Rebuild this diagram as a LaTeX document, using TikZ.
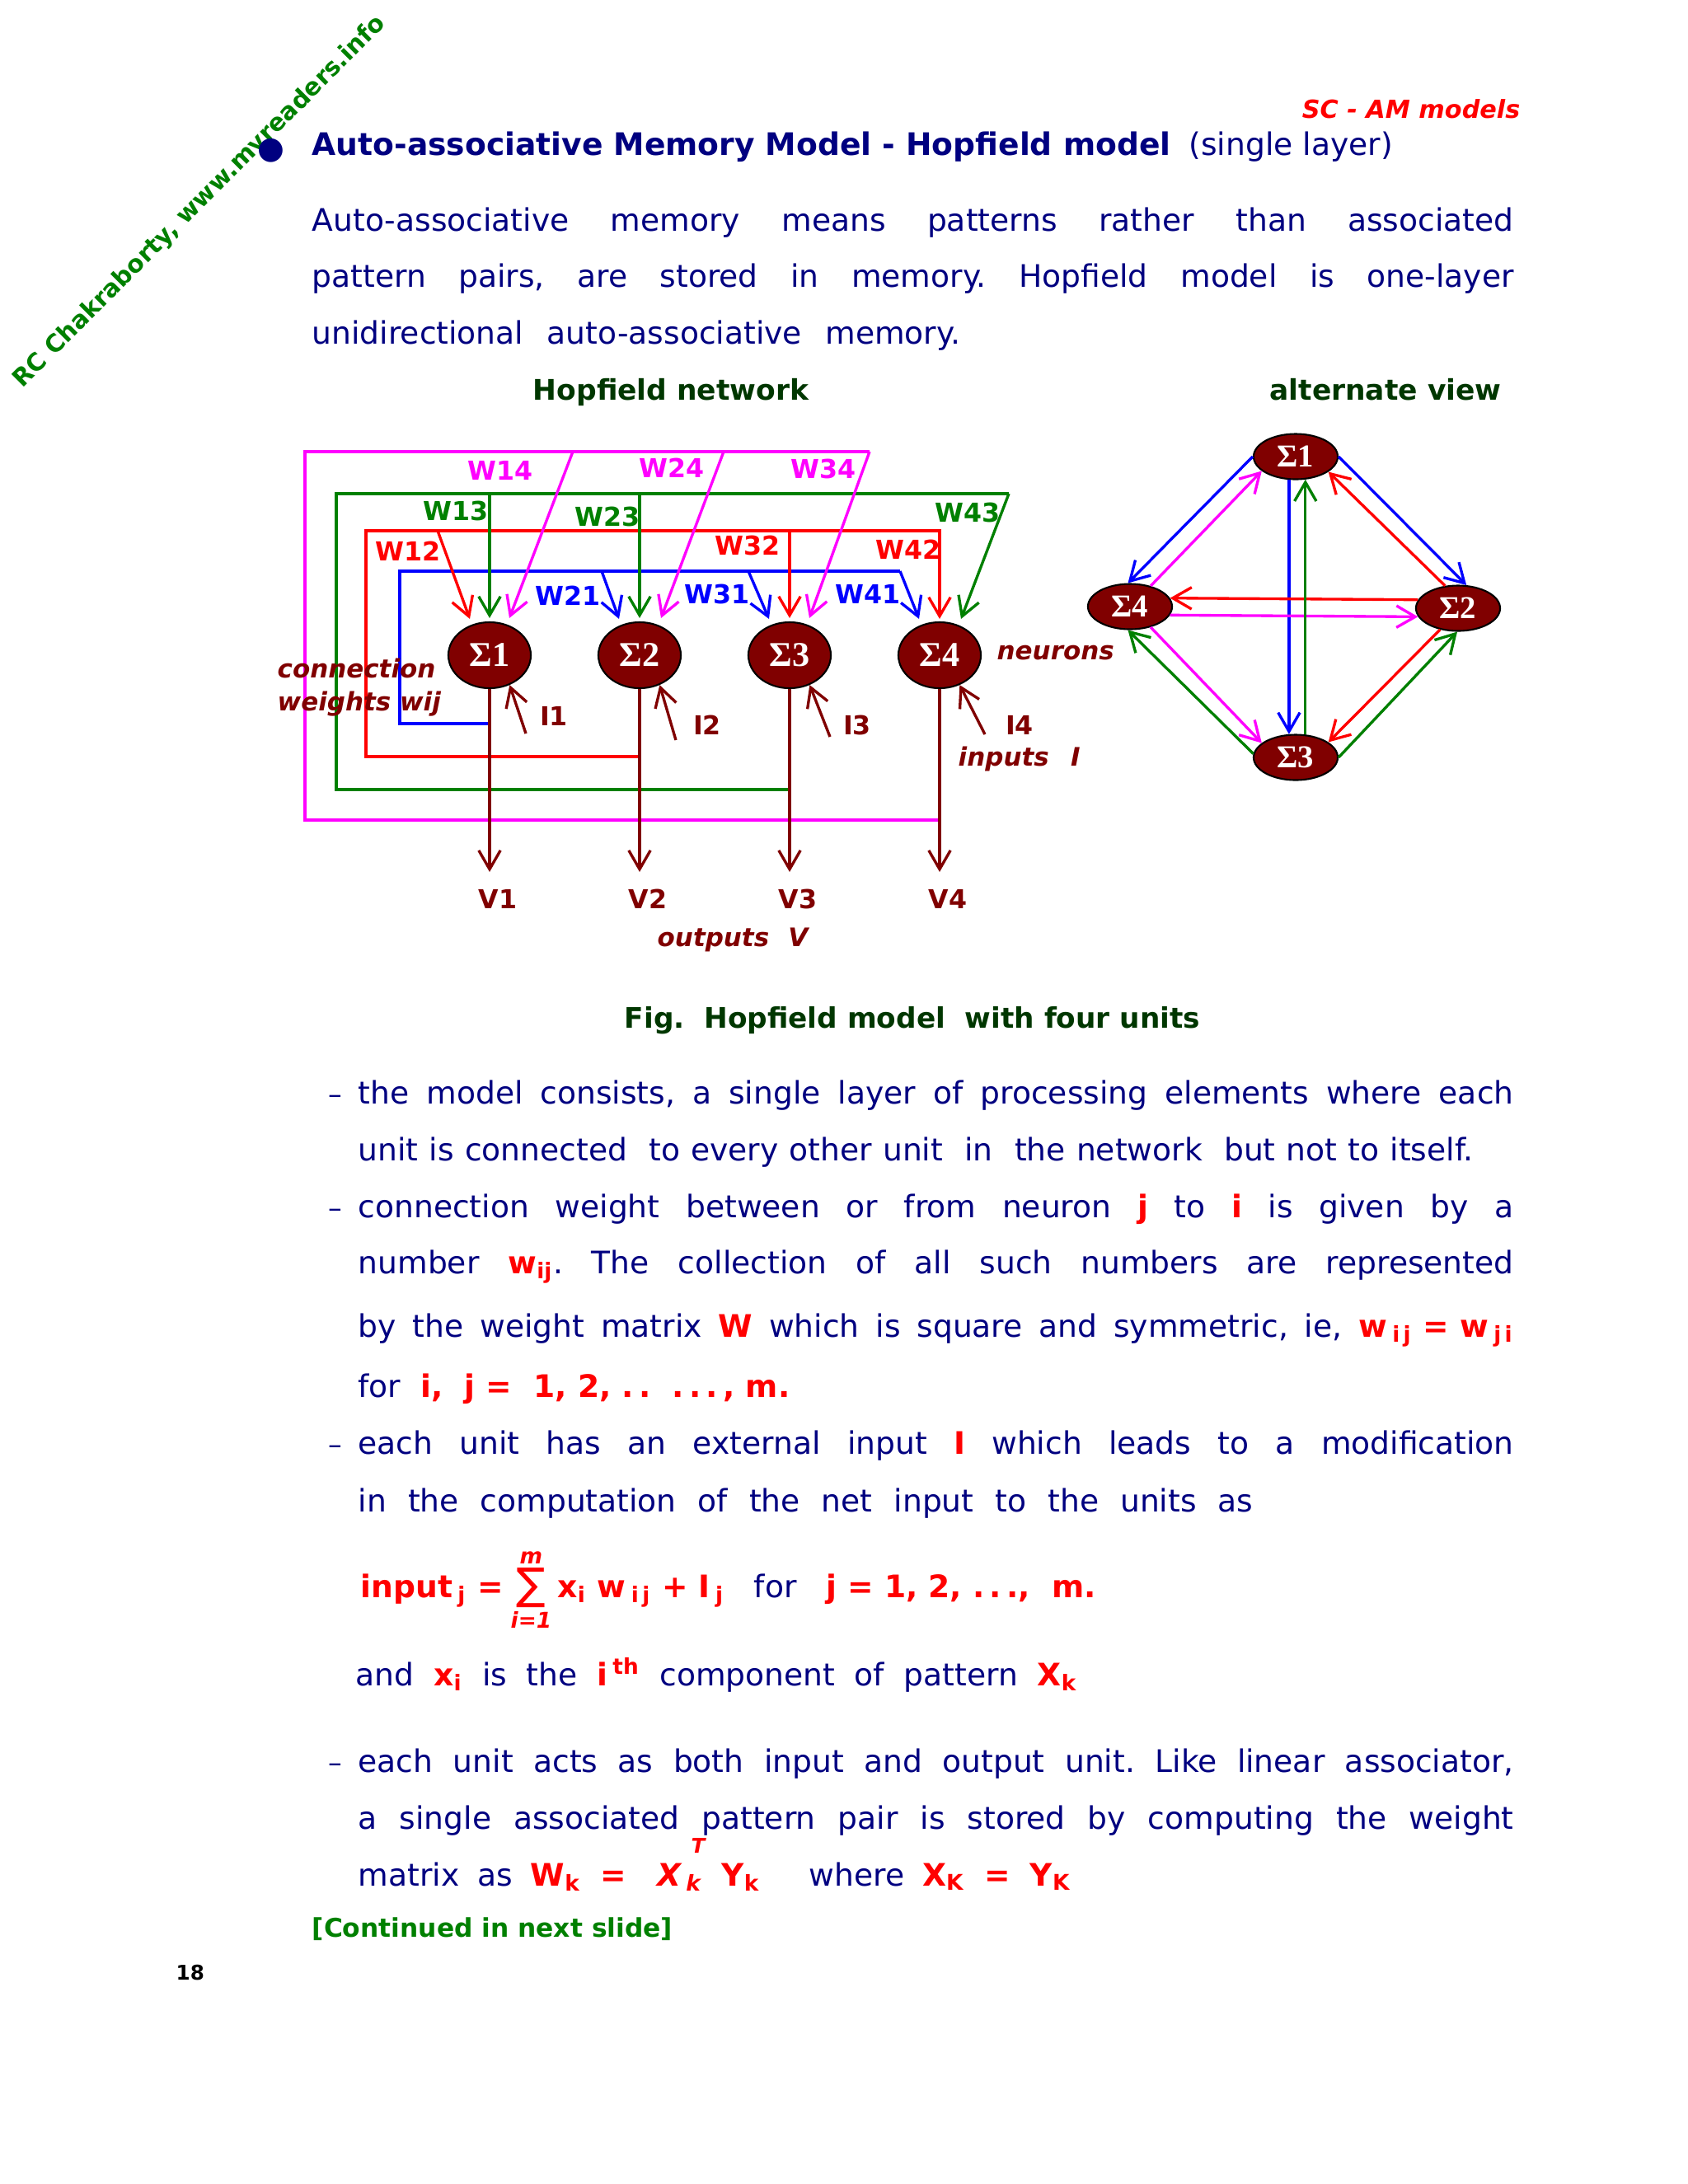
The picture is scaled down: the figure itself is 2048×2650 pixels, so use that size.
\documentclass[tikz,border=0pt]{standalone}
\usepackage{fontspec}
\setmainfont{DejaVu Sans}
\newfontfamily\sigfont{Liberation Serif}
\usetikzlibrary{arrows.meta,positioning,calc,shapes.geometric}
\frenchspacing

\definecolor{navy}{RGB}{0,0,128}
\definecolor{maroon}{RGB}{128,0,0}
\definecolor{dkgreen}{RGB}{0,55,0}
\definecolor{wgreen}{RGB}{0,128,0}
\definecolor{wred}{RGB}{255,0,0}
\definecolor{wblue}{RGB}{0,0,255}
\definecolor{wpink}{RGB}{255,0,255}

\newcommand\bodyfont{\fontsize{10.7}{13}\selectfont}
\newcommand\rb[1]{\textcolor{red}{\bfseries #1}}
\newcommand\jline[2]{\makebox[#1][s]{#2}}

\tikzset{
  neuron/.style={ellipse, draw=black, line width=0.6pt, fill=maroon, text=white,
    minimum width=1cm, minimum height=0.8cm, inner sep=0pt,
    font=\sigfont\bfseries\fontsize{12}{12}\selectfont},
  altneuron/.style={neuron, minimum width=1.02cm, minimum height=0.55cm,
    font=\sigfont\bfseries\fontsize{11}{11}\selectfont},
  wlab/.style={inner sep=0pt, font=\bfseries\fontsize{9}{10}\selectfont},
  note/.style={inner sep=0pt, anchor=base west, text=maroon,
    font=\bfseries\itshape\fontsize{8.8}{10}\selectfont},
  txt/.style={inner sep=0pt, anchor=base west, text=navy, font=\bodyfont},
  head/.style={inner sep=0pt, anchor=base, text=dkgreen,
    font=\bfseries\fontsize{9.8}{11}\selectfont},
  wire/.style={line width=0.95pt},
  arr/.style={wire, -{Straight Barb[length=6.5pt,width=7.5pt]}},
}

\begin{document}
\begin{tikzpicture}[x=0.01cm, y=-0.01cm]
\fill[white] (0,0) rectangle (2048,2650);
\useasboundingbox (0,0) rectangle (2048,2650);

% page header
\node[inner sep=0pt, anchor=base west, rotate=45, text=wgreen,
  font=\bfseries\fontsize{8.4}{10}\selectfont] (mark) at (27,472) {RC Chakraborty, www.myreaders.info};
\node[inner sep=0pt, anchor=base east, text=red,
  font=\bfseries\itshape\fontsize{8.6}{10}\selectfont] (hdr) at (1845,143) {SC - AM models};
\node[txt] (bul) at (312,192) {●};
\node[txt, font=\bfseries\bodyfont] (title) at (378,188) {Auto-associative Memory Model - Hopfield model};
\node[txt] (sub) at (1442,188) {(single layer)};
\node[txt] (p1) at (378,280) {\jline{14.57cm}{Auto-associative memory means patterns rather than associated}};
\node[txt] (p2) at (378,348) {\jline{14.57cm}{pattern pairs, are stored in memory. Hopfield model is one-layer}};
\node[txt] (p3) at (378,417) {\jline{7.86cm}{unidirectional auto-associative memory.}};
\node[head] (hnet) at (814,485) {Hopfield network};
\node[head] (halt) at (1681,485) {alternate view};

% neurons
\foreach \n/\x in {1/594,2/776,3/958,4/1140}
  \node[neuron] (s\n) at (\x,795) {Σ\n};

% feedback from unit 1 (blue)
\coordinate (b0) at (594,878);
\coordinate (bc) at (485,693);
\coordinate (b2) at (730,693);
\coordinate (b3) at (908,693);
\coordinate (b4) at (1092,693);
\draw[wire, wblue] (b0) -| (bc) -- (b4);
\draw[arr, wblue] (b2) -- ($(s2.north)+(-25,-3)$);
\draw[arr, wblue] (b3) -- ($(s3.north)+(-25,-3)$);
\draw[arr, wblue] (b4) -- ($(s4.north)+(-25,-3)$);

% feedback from unit 2 (red)
\coordinate (r0) at (776,918);
\coordinate (rc) at (444,644);
\coordinate (r1) at (531,644);
\draw[arr, wred] (r0) -| (rc) -| ($(s4.north)+(0,-3)$);
\draw[arr, wred] (r1) -- ($(s1.north)+(-24,-3)$);
\draw[arr, wred] (s3.north |- rc) -- ($(s3.north)+(0,-4)$);

% feedback from unit 3 (green)
\coordinate (g0) at (958,958);
\coordinate (gc) at (408,599);
\coordinate (g4) at (1224,599);
\draw[wire, wgreen] (g0) -| (gc) -- (g4);
\draw[arr, wgreen] (g4) -- ($(s4.north)+(26,-3)$);
\draw[arr, wgreen] (s1.north |- gc) -- ($(s1.north)+(0,-4)$);
\draw[arr, wgreen] (s2.north |- gc) -- ($(s2.north)+(0,-4)$);

% feedback from unit 4 (magenta)
\coordinate (m0) at (1140,995);
\coordinate (mc) at (370,548);
\coordinate (m1) at (695,548);
\coordinate (m2) at (878,548);
\coordinate (m3) at (1055,548);
\draw[wire, wpink] (m0) -| (mc) -- (m3);
\draw[arr, wpink] (m1) -- ($(s1.north)+(24,-4)$);
\draw[arr, wpink] (m2) -- ($(s2.north)+(26,-4)$);
\draw[arr, wpink] (m3) -- ($(s3.north)+(24,-4)$);

% weight labels
\foreach \lab/\col/\x/\y in {W14/wpink/607/571, W24/wpink/815/568, W34/wpink/999/569,
    W13/wgreen/553/620, W23/wgreen/737/627, W43/wgreen/1174/622,
    W12/wred/495/669, W32/wred/907/662, W42/wred/1102/667,
    W21/wblue/689/723, W31/wblue/870/721, W41/wblue/1053/721}
  \node[wlab, text=\col] (l\lab) at (\x,\y) {\lab};

% outputs and inputs
\foreach \n/\x in {1/594,2/776,3/958,4/1140}{
  \coordinate (v\n) at (\x,1058);
  \draw[arr, maroon] (s\n.south) -- (v\n);
  \node[wlab, text=maroon, anchor=base] (vl\n) at (\x+10,1102) {V\n};
}
\foreach \n/\tx/\ty/\lx/\ly in {1/44/95/78/74, 2/44/103/82/85, 3/49/99/82/85, 4/55/96/97/85}{
  \coordinate (i\n) at ($(s\n)+(\tx,\ty)$);
  \draw[arr, maroon] (i\n) -- (s\n.-56);
  \node[wlab, text=maroon] (il\n) at ($(s\n)+(\lx,\ly)$) {I\n};
}
\node[note] (conn) at (336,822) {connection};
\node[note] (wts) at (336,862) {weights wij};
\node[note] (neu) at (1209,800) {neurons};
\node[note] (inp) at (1162,929) {inputs\hspace{0.85em}I};
\node[note] (outp) at (797,1148) {outputs\hspace{0.75em}V};

% alternate view
\node[altneuron] (a1) at (1572,554) {Σ1};
\node[altneuron] (a2) at (1769,738) {Σ2};
\node[altneuron] (a3) at (1572,919) {Σ3};
\node[altneuron] (a4) at (1371,736) {Σ4};
\draw[arr, wblue] (a1.west) -- (a4.95);
\draw[arr, wblue] (a1.east) -- (a2.70);
\draw[arr, wblue] (a1.254) -- (a3.106);
\draw[arr, wpink] (a4.45) -- (a1.203);
\draw[arr, wpink] (a4.348) -- (a2.192);
\draw[arr, wpink] (a4.315) -- (a3.157);
\draw[arr, wred] (a2.120) -- (a1.335);
\draw[arr, wred] (a2.168) -- (a4.12);
\draw[arr, wred] (a2.230) -- (a3.25);
\draw[arr, wgreen] (a3.67) -- (a1.293);
\draw[arr, wgreen] (a3.175) -- (a4.265);
\draw[arr, wgreen] (a3.east) -- (a2.268);

\node[head, font=\bfseries\fontsize{9.75}{11}\selectfont] (cap) at (1107,1247) {Fig.\ \ Hopfield model\ \ with four units};

% bullet points
\foreach \y in {1339,1477,1764,2150}
  \node[txt, font=\fontsize{9.5}{9}\selectfont] at (398,\y) {–};
\node[txt] (b1) at (434,1339) {\jline{14.01cm}{the model consists, a single layer of processing elements where each}};
\node[txt] (b2) at (434,1408) {\jline{13.52cm}{unit is connected\ \ to every other unit\ \ in\ \ the network\ \ but not to itself.}};
\node[txt] (b3) at (434,1477) {\jline{14.01cm}{connection weight between or from neuron \rb{j} to \rb{i} is given by a}};
\node[txt] (b4) at (434,1545) {\jline{14.01cm}{number \rb{w\textsubscript{ij}}. The collection of all such numbers are represented}};
\node[txt] (b5) at (434,1622) {\jline{14.01cm}{by the weight matrix \rb{W} which is square and symmetric, ie, \rb{\mbox{w\,\textsubscript{i\,j} = w\,\textsubscript{j\,i}}}}};
\node[txt] (b6) at (434,1695) {for\ \ \rb{i,\ \ j =\ \ 1, 2,\ .\,.\ \ .\,.\,.\,,\ m.}};
\node[txt] (b7) at (434,1764) {\jline{14.01cm}{each unit has an external input \rb{I} which leads to a modification}};
\node[txt] (b8) at (434,1834) {\jline{10.85cm}{in the computation of the net input to the units as}};
\node[txt] (fa) at (437,1938) {\rb{input\,\textsubscript{j} =}};
\node[txt, text=red, font=\fontsize{15}{15}\selectfont] (fs) at (626,1940) {∑};
\node[inner sep=0pt, text=red, font=\bfseries\itshape\fontsize{7.5}{8}\selectfont, above=1pt of fs] (fm) {m};
\node[inner sep=0pt, text=red, font=\bfseries\itshape\fontsize{7.5}{8}\selectfont, below=1pt of fs] (fi) {i=1};
\node[txt] (fb) at (676,1938) {\rb{x\textsubscript{i} w\,\textsubscript{i\,j} + I\,\textsubscript{j}}\ \ \ for\ \ \ \rb{j = 1, 2,\ .\,.\,.,\ \ m.}};
\node[txt] (b10) at (431,2045) {\jline{8.75cm}{and \rb{x\textsubscript{i}} is the \rb{i\,\textsuperscript{th}} component of pattern \rb{X\textsubscript{k}}}};
\node[txt] (b11) at (434,2150) {\jline{14.01cm}{each unit acts as both input and output unit. Like linear associator,}};
\node[txt] (b12) at (434,2219) {\jline{14.01cm}{a single associated pattern pair is stored by computing the weight}};
\node[txt] (b13) at (434,2288) {\jline{8.64cm}{matrix as \rb{W\textsubscript{k} =}\hspace{0.4em} \rb{\itshape X\,\textsubscript{k}\llap{\raisebox{1.9ex}{\fontsize{7}{7}\selectfont T\hspace{-0.15em}}}\ \upshape Y\textsubscript{k}}\hspace{1em} where \rb{X\textsubscript{K} = Y\textsubscript{K}}}};
\node[txt, text=wgreen, font=\bfseries\fontsize{8.9}{10}\selectfont] (cont) at (378,2350) {[Continued in next slide]};
\node[txt, text=black, font=\bfseries\fontsize{7}{8}\selectfont] (pg) at (213,2402) {18};
\end{tikzpicture}
\end{document}
